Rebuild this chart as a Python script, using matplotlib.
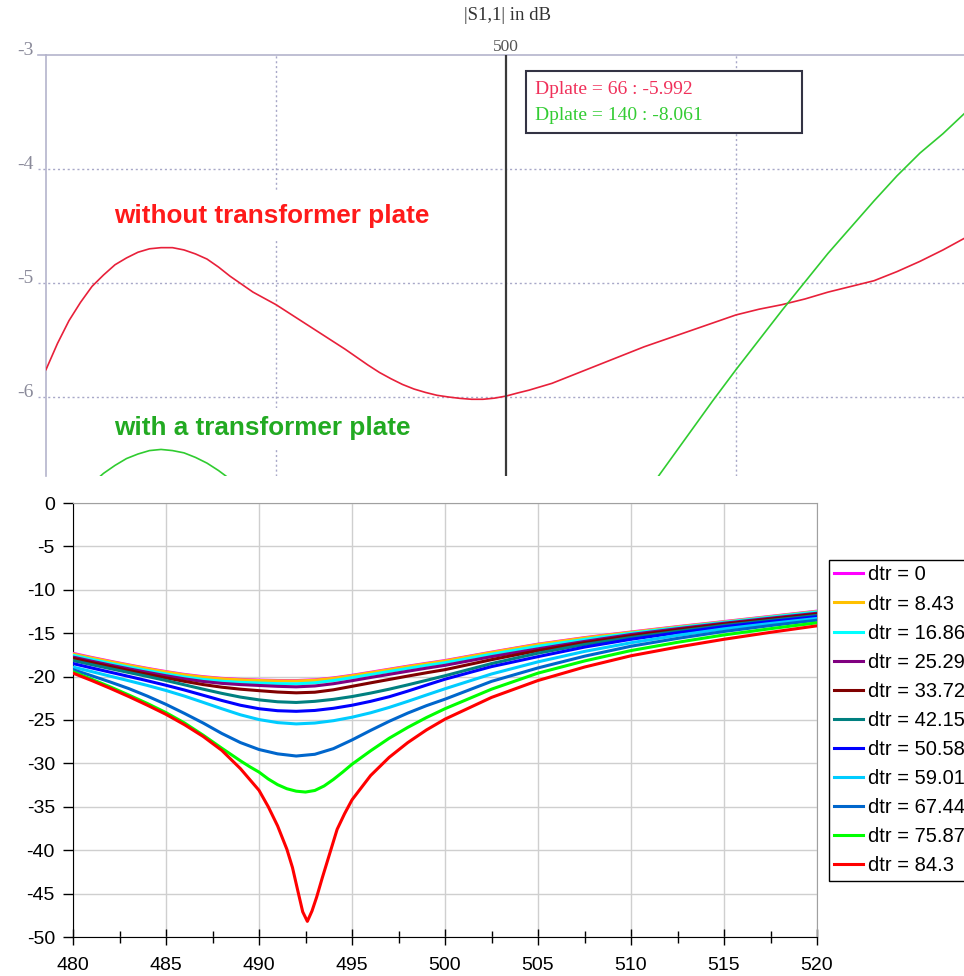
import numpy as np
import matplotlib
matplotlib.use("Agg")
import matplotlib.pyplot as plt
from matplotlib.patches import Rectangle

plt.rcParams["axes.unicode_minus"] = False

# ---- upper panel: |S1,1| in dB (screenshot style) ----
f_top = np.arange(480, 520.5, 0.5)
s11_without = [-5.76, -5.53, -5.33, -5.17, -5.03, -4.93, -4.84, -4.78, -4.73, -4.70,
               -4.69, -4.69, -4.71, -4.745, -4.79, -4.86, -4.94, -5.01, -5.08, -5.135,
               -5.19, -5.255, -5.32, -5.385, -5.45, -5.515, -5.58, -5.65, -5.72, -5.785,
               -5.84, -5.89, -5.93, -5.96, -5.985, -6.0, -6.012, -6.02, -6.02, -6.01,
               -5.992, -5.965, -5.94, -5.91, -5.88, -5.84, -5.80, -5.76, -5.72, -5.68,
               -5.64, -5.60, -5.56, -5.525, -5.49, -5.455, -5.42, -5.385, -5.35, -5.315,
               -5.28, -5.255, -5.23, -5.21, -5.19, -5.165, -5.14, -5.11, -5.08, -5.055,
               -5.03, -5.005, -4.98, -4.94, -4.90, -4.855, -4.81, -4.76, -4.71, -4.655,
               -4.60]
s11_with = [-7.40, -7.18, -7.00, -6.87, -6.76, -6.67, -6.60, -6.54, -6.50, -6.47,
            -6.46, -6.47, -6.49, -6.53, -6.58, -6.645, -6.72, -6.81, -6.90, -7.00,
            -7.10, -7.21, -7.32, -7.42, -7.52, -7.61, -7.70, -7.78, -7.85, -7.91,
            -7.96, -8.00, -8.04, -8.06, -8.08, -8.09, -8.09, -8.09, -8.08, -8.07,
            -8.061, -8.03, -7.99, -7.94, -7.87, -7.79, -7.69, -7.58, -7.45, -7.31,
            -7.16, -7.02, -6.87, -6.73, -6.59, -6.45, -6.31, -6.17, -6.03, -5.895,
            -5.76, -5.63, -5.50, -5.37, -5.24, -5.115, -4.99, -4.865, -4.74, -4.625,
            -4.51, -4.395, -4.28, -4.17, -4.06, -3.96, -3.86, -3.775, -3.69, -3.595,
            -3.50]
top_yticks = [-6, -5, -4, -3]
marker_f = 500
marker_texts = ["Dplate = 66 : -5.992", "Dplate = 140 : -8.061"]

# ---- lower panel: sweep over dtr ----
freq = [480, 481, 482, 483, 484, 485, 486, 487, 488, 489, 490, 491, 492, 493, 494,
        495, 496, 497, 498, 499, 500, 502.5, 505, 507.5, 510, 512.5, 515, 517.5, 520]
freq_green = [480, 481, 482, 483, 484, 485, 486, 487, 488, 489, 489.5, 490, 490.5, 491,
              491.5, 492, 492.5, 493, 493.5, 494, 494.5, 495, 496, 497, 498, 499, 500,
              502.5, 505, 507.5, 510, 512.5, 515, 517.5, 520]
freq_red = [480, 481, 482, 483, 484, 485, 486, 487, 488, 489, 490, 490.5, 491, 491.5,
            491.8, 492.1, 492.35, 492.6, 492.85, 493.1, 493.4, 493.7, 494.2, 494.6, 495,
            496, 497, 498, 499, 500, 502.5, 505, 507.5, 510, 512.5, 515, 517.5, 520]
dtr_labels = ["dtr = 0", "dtr = 8.43", "dtr = 16.86", "dtr = 25.29", "dtr = 33.72",
              "dtr = 42.15", "dtr = 50.58", "dtr = 59.01", "dtr = 67.44",
              "dtr = 75.87", "dtr = 84.3"]
dtr_0 = [-17.32, -17.79, -18.23, -18.65, -19.05, -19.42, -19.75, -20.01, -20.20, -20.32,
         -20.40, -20.45, -20.46, -20.37, -20.15, -19.85, -19.50, -19.15, -18.80, -18.47,
         -18.15, -17.18, -16.26, -15.51, -14.86, -14.24, -13.66, -13.06, -12.46]
dtr_843 = [-17.40, -17.85, -18.28, -18.70, -19.10, -19.47, -19.80, -20.06, -20.25, -20.37,
           -20.45, -20.50, -20.51, -20.42, -20.20, -19.90, -19.55, -19.20, -18.85, -18.52,
           -18.20, -17.22, -16.30, -15.55, -14.90, -14.28, -13.70, -13.10, -12.50]
dtr_1686 = [-17.55, -18.02, -18.47, -18.90, -19.31, -19.70, -20.05, -20.33, -20.53, -20.66,
            -20.74, -20.81, -20.83, -20.72, -20.45, -20.12, -19.77, -19.41, -19.06, -18.72,
            -18.40, -17.42, -16.50, -15.72, -15.00, -14.36, -13.75, -13.15, -12.55]
dtr_2529 = [-17.75, -18.22, -18.67, -19.10, -19.51, -19.90, -20.26, -20.56, -20.78, -20.92,
            -21.02, -21.12, -21.18, -21.08, -20.82, -20.47, -20.10, -19.74, -19.38, -19.03,
            -18.70, -17.70, -16.80, -15.95, -15.15, -14.48, -13.85, -13.27, -12.70]
dtr_3372 = [-17.90, -18.38, -18.84, -19.29, -19.73, -20.15, -20.55, -20.92, -21.22, -21.45,
            -21.62, -21.78, -21.87, -21.80, -21.52, -21.12, -20.72, -20.33, -19.94, -19.56,
            -19.20, -18.05, -17.00, -16.10, -15.30, -14.60, -13.95, -13.37, -12.80]
dtr_4215 = [-18.15, -18.62, -19.08, -19.53, -19.98, -20.45, -20.95, -21.45, -21.93, -22.36,
            -22.68, -22.90, -22.98, -22.85, -22.62, -22.30, -21.90, -21.45, -20.95, -20.43,
            -19.90, -18.50, -17.30, -16.30, -15.50, -14.78, -14.10, -13.52, -12.95]
dtr_5058 = [-18.50, -19.00, -19.49, -19.98, -20.48, -21.00, -21.55, -22.15, -22.75, -23.30,
            -23.70, -23.93, -24.00, -23.90, -23.65, -23.30, -22.85, -22.32, -21.67, -20.98,
            -20.30, -18.85, -17.70, -16.60, -15.70, -14.95, -14.25, -13.65, -13.10]
dtr_5901 = [-18.90, -19.42, -19.95, -20.48, -21.02, -21.60, -22.25, -22.97, -23.70, -24.40,
            -24.95, -25.30, -25.45, -25.35, -25.08, -24.68, -24.17, -23.55, -22.85, -22.12,
            -21.40, -19.70, -18.30, -17.10, -16.10, -15.25, -14.50, -13.88, -13.30]
dtr_6744 = [-19.20, -19.90, -20.62, -21.38, -22.25, -23.20, -24.25, -25.35, -26.55, -27.60,
            -28.40, -28.90, -29.15, -28.95, -28.30, -27.30, -26.20, -25.15, -24.20, -23.35,
            -22.60, -20.55, -19.00, -17.65, -16.50, -15.60, -14.80, -14.12, -13.50]
dtr_7587 = [-19.45, -20.30, -21.18, -22.12, -23.10, -24.15, -25.35, -26.75, -28.25, -29.70,
            -30.38, -31.00, -31.80, -32.45, -32.92, -33.20, -33.30, -33.12, -32.60, -31.85,
            -31.00, -30.10, -28.55, -27.10, -25.85, -24.72, -23.70, -21.45, -19.60, -18.20,
            -17.00, -16.05, -15.20, -14.48, -13.80]
dtr_843_0 = [-19.60, -20.45, -21.35, -22.30, -23.30, -24.35, -25.55, -26.90, -28.50, -30.60,
             -33.10, -35.00, -37.20, -39.90, -42.00, -44.80, -47.10, -48.20, -47.00, -45.40,
             -43.20, -41.10, -37.60, -35.80, -34.20, -31.40, -29.30, -27.60, -26.15, -24.90,
             -22.40, -20.45, -18.90, -17.60, -16.60, -15.70, -14.90, -14.15]
dtr_series = [dtr_0, dtr_843, dtr_1686, dtr_2529, dtr_3372, dtr_4215, dtr_5058,
              dtr_5901, dtr_6744, dtr_7587, dtr_843_0]
dtr_freqs = [freq] * 9 + [freq_green, freq_red]
dtr_colors = ["#ff00ff", "#ffc000", "#00ffff", "#800080", "#800000", "#008080",
              "#0000ff", "#00ccff", "#0066cc", "#00ff00", "#ff0000"]

W, H = 964, 976
fig = plt.figure(figsize=(W / 100, H / 100), dpi=100)

def fx(px):
    return px / W

def fy(py):
    return 1 - py / H

serif = "Liberation Serif"
sans = "Liberation Sans"
grid_c = "#a8a8c8"

# ================= upper panel =================
ax1 = fig.add_axes([fx(46), fy(476), fx(964 - 46), (476 - 55) / H])
ax1.set_xlim(480, 480 + 918 / 23)
ax1.set_ylim(-3 - 421 / 114, -3)
for s in ["right", "bottom"]:
    ax1.spines[s].set_visible(False)
for s in ["top", "left"]:
    ax1.spines[s].set_color("#b4b4cc")
    ax1.spines[s].set_linewidth(1.2)
ax1.set_yticks([])
ax1.xaxis.tick_top()
ax1.set_xticks([marker_f])
ax1.set_xticklabels([str(marker_f)], family=serif, fontsize=12.5, color="#555555")
ax1.tick_params(axis="x", length=0, pad=0)

for v in top_yticks:
    if v != -3:
        ax1.axhline(v, xmin=-8 / 918, xmax=1, color=grid_c, lw=1,
                    ls=(0, (1.5, 2)), clip_on=False, zorder=1)
    ax1.text(-12 / 918, v, str(v), transform=ax1.get_yaxis_transform(),
             ha="right", va="baseline", family=serif, fontsize=14, color="#8a8a9a")
ax1.plot([480 - 8 / 23, 480], [-3, -3], color="#b4b4cc", lw=1.2, clip_on=False)
for v in [490, 510]:
    ax1.axvline(v, color=grid_c, lw=1, ls=(0, (1.5, 2)), zorder=1)

ax1.axvline(marker_f, color="#3a3a3a", lw=1.6, zorder=4)
ax1.plot(f_top, s11_without, color="#e8203a", lw=1.2, zorder=3)
ax1.plot(f_top, s11_with, color="#30cc30", lw=1.2, zorder=3)

ax1.text(fx(114), fy(223), "without transformer plate", transform=fig.transFigure,
         ha="left", va="baseline", family=sans, fontsize=18.8, fontweight="bold",
         color="#ff1a1a", bbox=dict(facecolor="white", edgecolor="none", pad=9),
         zorder=2.5)
ax1.text(fx(114), fy(435), "with a transformer plate", transform=fig.transFigure,
         ha="left", va="baseline", family=sans, fontsize=18.8, fontweight="bold",
         color="#22aa22", bbox=dict(facecolor="white", edgecolor="none", pad=6),
         zorder=2.5)

box = Rectangle((fx(526), fy(133)), fx(802 - 526), (133 - 71) / H,
                transform=fig.transFigure, facecolor="white", edgecolor="#333344",
                lw=1.5, zorder=5)
ax1.add_patch(box)
box.set_clip_on(False)
ax1.text(fx(535), fy(94), marker_texts[0], transform=fig.transFigure, ha="left",
         va="baseline", family=serif, fontsize=14, color="#f0305a", zorder=6)
ax1.text(fx(535), fy(120), marker_texts[1], transform=fig.transFigure, ha="left",
         va="baseline", family=serif, fontsize=14, color="#33cc33", zorder=6)

fig.text(fx(507), fy(15), "|S1,1| in dB", ha="center", va="center", family=serif,
         fontsize=13.5, color="#333333")

# ================= lower panel =================
ax2 = fig.add_axes([fx(73), fy(937), fx(817 - 73), (937 - 503) / H])
for xs, vals, col, lab in zip(dtr_freqs, dtr_series, dtr_colors, dtr_labels):
    ax2.plot(xs, vals, color=col, lw=2.2, label=lab, zorder=3)
ax2.set_xlim(480, 520)
ax2.set_ylim(-50, 0)
ax2.set_xticks(np.arange(480, 521, 5))
ax2.set_xticks(np.arange(482.5, 520, 5), minor=True)
ax2.set_yticks(np.arange(-50, 1, 5))
ax2.grid(True, which="major", color="#cfcfcf", lw=1, zorder=0)
ax2.set_axisbelow(True)
ax2.spines["left"].set_color("black")
ax2.spines["bottom"].set_color("black")
ax2.spines["top"].set_color("#a0a0a0")
ax2.spines["right"].set_color("#a0a0a0")
ax2.tick_params(axis="y", direction="out", length=7, width=1, pad=6, labelsize=14)
ax2.tick_params(axis="x", which="major", direction="inout", length=11, width=1,
                pad=9, labelsize=14)
ax2.tick_params(axis="x", which="minor", direction="inout", length=9, width=1)
for lbl in ax2.get_xticklabels() + ax2.get_yticklabels():
    lbl.set_family(sans)

leg = ax2.legend(loc="upper left", bbox_to_anchor=(fx(829), fy(560)),
                 bbox_transform=fig.transFigure, frameon=True, fancybox=False,
                 edgecolor="black", framealpha=1, borderaxespad=0,
                 prop={"family": sans, "size": 14.5}, handlelength=1.4,
                 handletextpad=0.25, labelspacing=0.5, borderpad=0.27)
leg.get_frame().set_linewidth(1)

fig.savefig("out.png", dpi=100)
